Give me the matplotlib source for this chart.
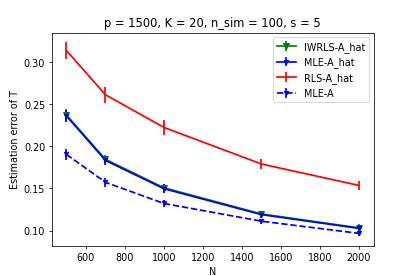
import matplotlib
matplotlib.use("Agg")
import matplotlib.pyplot as plt

N = [500, 700, 1000, 1500, 2000]
iwrls = [0.2370, 0.1845, 0.1508, 0.1198, 0.1033]
iwrls_err = [0.007, 0.005, 0.005, 0.004, 0.004]
mle_hat = [0.2358, 0.1832, 0.1497, 0.1190, 0.1027]
mle_hat_err = [0.007, 0.005, 0.005, 0.004, 0.004]
rls = [0.3133, 0.2610, 0.2223, 0.1790, 0.1536]
rls_err = [0.010, 0.0095, 0.009, 0.006, 0.005]
mle = [0.1903, 0.1573, 0.1322, 0.1112, 0.0968]
mle_err = [0.006, 0.005, 0.004, 0.003, 0.003]

lw = 1.8
fig, ax = plt.subplots(figsize=(6, 4), dpi=415/6)
ax.errorbar(N, iwrls, yerr=iwrls_err, color='green', marker='v', markersize=6, lw=lw, elinewidth=lw, label='IWRLS-A_hat')
ax.errorbar(N, mle_hat, yerr=mle_hat_err, color='blue', marker='v', markersize=4.5, lw=lw, elinewidth=lw, label='MLE-A_hat')
ax.errorbar(N, rls, yerr=rls_err, color='red', lw=lw, elinewidth=lw, label='RLS-A_hat')
ax.errorbar(N, mle, yerr=mle_err, color='blue', linestyle='--', marker='v', markersize=4.5, lw=lw, elinewidth=lw, label='MLE-A')
ax.set_xlabel('N')
ax.set_ylabel('Estimation error of T')
ax.set_title('p = 1500, K = 20, n_sim = 100, s = 5')
ax.legend(loc='upper right')
fig.savefig('out.png')
